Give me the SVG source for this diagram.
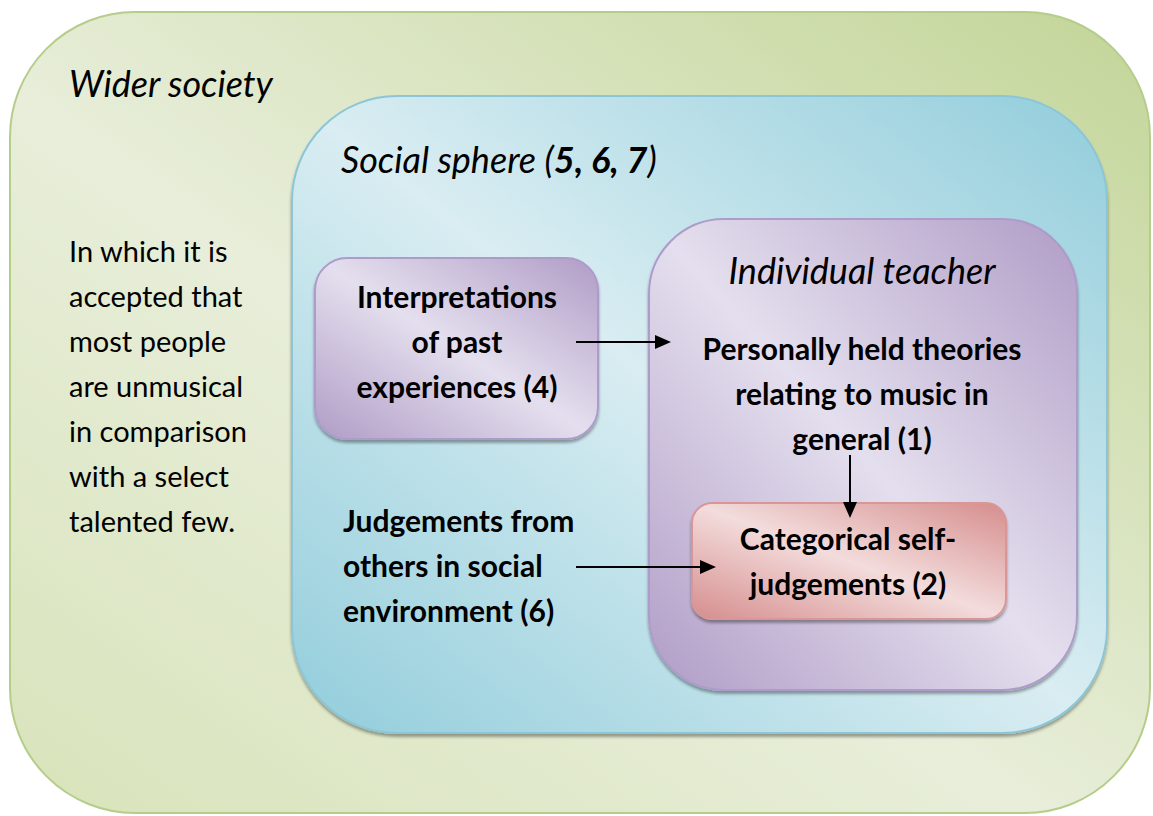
<svg xmlns="http://www.w3.org/2000/svg" width="1153" height="816" viewBox="0 0 1153 816">
<style>
text{font-family:Lato,"Liberation Sans",sans-serif;font-size:29px;fill:#000}
.it{font-style:italic;font-size:36px}
.b{font-weight:bold;font-size:30px}
.c{text-anchor:middle}
.con{stroke:#000;stroke-width:2;fill:none}
</style>
<defs>
<linearGradient id="gGreen" x1="1" y1="0" x2="0" y2="1">
<stop offset="0" stop-color="#c3d598"/>
<stop offset="0.55" stop-color="#e8eeda"/>
<stop offset="1" stop-color="#d8e3ba"/>
</linearGradient>
<linearGradient id="gBlue" x1="1" y1="0" x2="0" y2="1">
<stop offset="0" stop-color="#92cddb"/>
<stop offset="0.5" stop-color="#d9edf2"/>
<stop offset="1" stop-color="#92cddb"/>
</linearGradient>
<linearGradient id="gPurple" x1="1" y1="0" x2="0" y2="1">
<stop offset="0" stop-color="#b09cc6"/>
<stop offset="0.5" stop-color="#e4dfee"/>
<stop offset="1" stop-color="#b09cc6"/>
</linearGradient>
<linearGradient id="gPink" x1="1" y1="0" x2="0" y2="1">
<stop offset="0" stop-color="#d68d8d"/>
<stop offset="0.5" stop-color="#f3dcdc"/>
<stop offset="1" stop-color="#d68d8d"/>
</linearGradient>
<filter id="sh" x="-5%" y="-5%" width="110%" height="115%">
<feDropShadow dx="0" dy="3" stdDeviation="1.5" flood-color="#000" flood-opacity="0.35"/>
</filter>
<marker id="arr" markerWidth="8" markerHeight="7" refX="7" refY="3.5" orient="auto" markerUnits="strokeWidth">
<path d="M0,0 L8,3.5 L0,7 Z" fill="#000"/>
</marker>
</defs>

<g id="wider-society">
<rect x="10" y="12" width="1140" height="801" rx="125" ry="125" fill="url(#gGreen)" stroke="#b5cd8a" stroke-width="2"/>
<text x="69" y="97" class="it">Wider society</text>
<text x="69" y="262">In which it is</text>
<text x="69" y="307">accepted that</text>
<text x="69" y="352">most people</text>
<text x="69" y="397">are unmusical</text>
<text x="69" y="442">in comparison</text>
<text x="69" y="487">with a select</text>
<text x="69" y="532">talented few.</text>
</g>

<g id="social-sphere">
<rect x="292" y="96" width="815" height="637" rx="105" ry="105" fill="url(#gBlue)" stroke="#8cc6d6" stroke-width="2" filter="url(#sh)"/>
<text x="341" y="173" class="it">Social sphere (<tspan font-weight="bold">5, 6, 7</tspan>)</text>
</g>

<g id="individual-teacher">
<rect x="649" y="219" width="428" height="471" rx="75" ry="75" fill="url(#gPurple)" stroke="#ad9cca" stroke-width="2" filter="url(#sh)"/>
<text x="862" y="284" class="it c">Individual teacher</text>
<text x="862" y="360" class="b c">Personally held theories</text>
<text x="862" y="405" class="b c">relating to music in</text>
<text x="862" y="450" class="b c">general (1)</text>
</g>

<g id="interpretations">
<rect x="315" y="258" width="283" height="181" rx="32" ry="32" fill="url(#gPurple)" stroke="#ad9cca" stroke-width="2" filter="url(#sh)"/>
<text x="457" y="308" class="b c">Interpretations</text>
<text x="457" y="353" class="b c">of past</text>
<text x="457" y="398" class="b c">experiences (4)</text>
</g>

<g id="judgements-from-others">
<text x="343" y="532" class="b">Judgements from</text>
<text x="343" y="577" class="b">others in social</text>
<text x="343" y="622" class="b">environment (6)</text>
</g>

<g id="categorical">
<rect x="692" y="503" width="314" height="116" rx="20" ry="20" fill="url(#gPink)" stroke="#d99696" stroke-width="2" filter="url(#sh)"/>
<text x="848" y="550" class="b c">Categorical self-</text>
<text x="848" y="595" class="b c">judgements (2)</text>
</g>

<g id="connectors">
<line x1="576" y1="342" x2="669" y2="342" class="con" marker-end="url(#arr)"/>
<line x1="850" y1="455" x2="850" y2="516" class="con" marker-end="url(#arr)"/>
<line x1="576" y1="567" x2="714" y2="567" class="con" marker-end="url(#arr)"/>
</g>
</svg>
